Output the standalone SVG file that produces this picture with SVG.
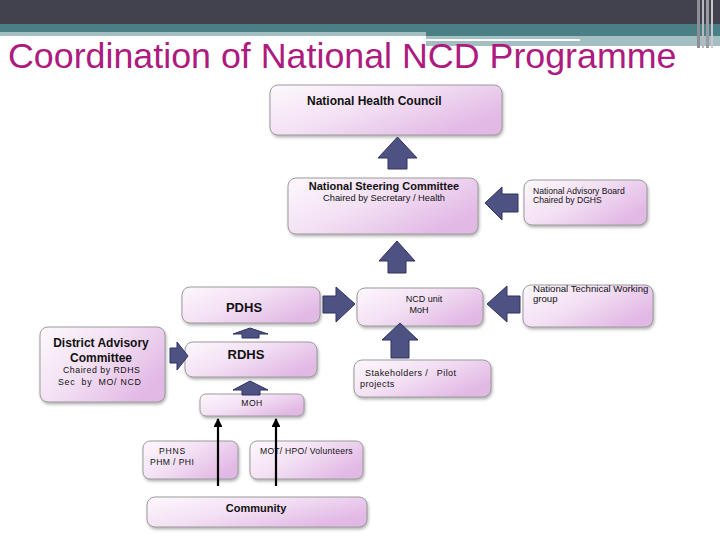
<svg xmlns="http://www.w3.org/2000/svg" width="720" height="540" viewBox="0 0 720 540">
<defs>
<linearGradient id="boxg" x1="0" y1="0" x2="1" y2="0.6">
<stop offset="0" stop-color="#fdf8fd"/>
<stop offset="0.5" stop-color="#f3e0f4"/>
<stop offset="1" stop-color="#e2b9e5"/>
</linearGradient>
<filter id="sh" x="-10%" y="-10%" width="125%" height="140%">
<feDropShadow dx="1" dy="2" stdDeviation="1.5" flood-color="#777" flood-opacity="0.55"/>
</filter>
<marker id="ah" viewBox="0 0 10 10" refX="9" refY="5" markerWidth="4" markerHeight="4" orient="auto">
<path d="M0,0 L10,5 L0,10 z" fill="#000"/>
</marker>
</defs>
<style>
.box{fill:url(#boxg);stroke:#9c9c9c;stroke-width:1;filter:url(#sh)}
.blk{fill:#4e5282;stroke:#2e3162;stroke-width:1}
.t{font-family:"Liberation Sans",Arial,sans-serif;fill:#111}
.b{font-weight:bold}
.pre{white-space:pre}
.ln{stroke:#000;stroke-width:2.2;fill:none;marker-end:url(#ah)}
</style>
<rect width="720" height="540" fill="#fff"/>
<g id="header">
<rect x="0" y="0" width="720" height="24" fill="#42424f"/>
<rect x="0" y="24" width="720" height="8" fill="#4a8085"/>
<rect x="0" y="32" width="426" height="4" fill="#a4bfc1"/>
<rect x="426" y="32" width="294" height="4" fill="#4a8085"/>
<rect x="426" y="36" width="294" height="10" fill="#a4bfc1"/>
<rect x="426" y="39" width="154" height="2" fill="#fff"/>
<rect x="697" y="0" width="3" height="48" fill="#8e8e96"/>
<rect x="702" y="0" width="2" height="48" fill="#b8b8be"/>
<rect x="706" y="0" width="3" height="48" fill="#9a9aa2"/>
<rect x="711" y="0" width="2" height="48" fill="#c8c8cc"/>
<text x="8" y="68" class="t" font-size="35.8" style="fill:#ad1a80">Coordination of National NCD Programme</text>
</g>
<g id="nhc">
<rect class="box" x="270" y="85" width="232" height="50" rx="8"/>
<text x="307" y="105" class="t b" font-size="12">National Health Council</text>
</g>
<g id="nsc">
<rect class="box" x="288" y="178" width="190" height="56" rx="8"/>
<text x="384" y="190" class="t b" font-size="11" text-anchor="middle">National Steering Committee</text>
<text x="384" y="201" class="t" font-size="9.3" text-anchor="middle">Chaired by Secretary / Health</text>
</g>
<g id="nab">
<rect class="box" x="524" y="180" width="123" height="45" rx="8"/>
<text x="533" y="194" class="t" font-size="8.6">National Advisory Board</text>
<text x="533" y="203" class="t" font-size="8.6">Chaired by DGHS</text>
</g>
<g id="ntwg">
<rect class="box" x="523" y="285" width="130" height="42" rx="8"/>
<text x="533" y="292" class="t" font-size="9.6">National Technical Working</text>
<text x="533" y="302" class="t" font-size="9.6">group</text>
</g>
<g id="ncd">
<rect class="box" x="357" y="288" width="126" height="38" rx="8"/>
<text x="424" y="302" class="t" font-size="9" text-anchor="middle">NCD unit</text>
<text x="419" y="313" class="t" font-size="9" text-anchor="middle">MoH</text>
</g>
<g id="pdhs">
<rect class="box" x="182" y="287" width="138" height="36" rx="8"/>
<text x="244" y="312" class="t b" font-size="13" text-anchor="middle">PDHS</text>
</g>
<g id="rdhs">
<rect class="box" x="185" y="342" width="132" height="35" rx="8"/>
<text x="246" y="359" class="t b" font-size="13" text-anchor="middle">RDHS</text>
</g>
<g id="dac">
<rect class="box" x="40" y="327" width="125" height="75" rx="8"/>
<text x="101" y="347" class="t b" font-size="12" text-anchor="middle">District Advisory</text>
<text x="101" y="362" class="t b" font-size="12" text-anchor="middle">Committee</text>
<text x="63" y="373" class="t" font-size="8.8" letter-spacing="0.5">Chaired by RDHS</text>
<text x="58" y="385" class="t pre" font-size="8.8" letter-spacing="0.7">Sec  by  MO/ NCD</text>
</g>
<g id="stake">
<rect class="box" x="354" y="360" width="137" height="37" rx="8"/>
<text x="365" y="376" class="t pre" font-size="9" letter-spacing="0.4">Stakeholders /   Pilot</text>
<text x="360" y="387" class="t" font-size="9" letter-spacing="0.4">projects</text>
</g>
<g id="moh">
<rect class="box" x="200" y="394" width="104" height="22" rx="6"/>
<text x="252" y="406" class="t" font-size="8.6" text-anchor="middle" letter-spacing="0.5">MOH</text>
</g>
<g id="phns">
<rect class="box" x="143" y="441" width="95" height="38" rx="7"/>
<text x="159" y="454" class="t" font-size="8.6" letter-spacing="0.8">PHNS</text>
<text x="150" y="465" class="t" font-size="8.6" letter-spacing="0.4">PHM / PHI</text>
</g>
<g id="mot">
<rect class="box" x="250" y="441" width="113" height="38" rx="7"/>
<text x="260" y="454" class="t" font-size="8.6" letter-spacing="0.25">MOT/ HPO/ Volunteers</text>
</g>
<g id="community">
<rect class="box" x="147" y="497" width="220" height="30" rx="8"/>
<text x="256" y="512" class="t b" font-size="11" text-anchor="middle">Community</text>
</g>
<g id="connectors">
<polygon class="blk" points="397.5,137 417,158 407,158 407,169 388,169 388,158 378,158"/>
<polygon class="blk" points="397,241 415,261 406,261 406,273 388,273 388,261 379,261"/>
<polygon class="blk" points="400,323 418,340 409,340 409,358 391,358 391,340 382,340"/>
<polygon class="blk" points="485,203 502,187 502,194 518,194 518,212 502,212 502,220"/>
<polygon class="blk" points="487,304 507,286 507,296 520,296 520,313 507,313 507,322"/>
<polygon class="blk" points="355,304 336,287 336,296 323,296 323,313 336,313 336,322"/>
<polygon class="blk" points="250,328 268,334 259,334 259,338 242,338 242,334 233,334"/>
<polygon class="blk" points="250,381 268,390 260,390 260,395 242,395 242,390 233,390"/>
<polygon class="blk" points="188,356 177,342 177,348 170,348 170,363 177,363 177,370"/>
<line class="ln" x1="218" y1="486" x2="218" y2="419"/>
<line class="ln" x1="276" y1="486" x2="276" y2="419"/>
</g>
</svg>
